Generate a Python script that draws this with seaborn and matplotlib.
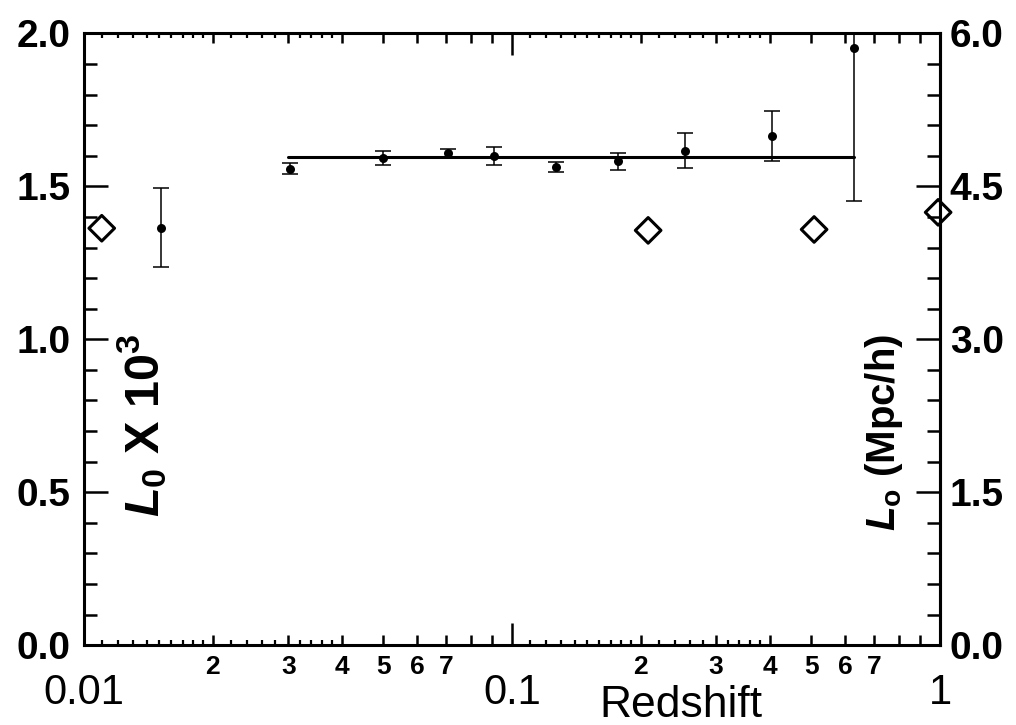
import numpy as np
import matplotlib
matplotlib.use("Agg")
import matplotlib.pyplot as plt
import seaborn as sns
from matplotlib.ticker import FixedLocator, FixedFormatter

# Data
circle_z = [0.0151, 0.0303, 0.050, 0.0709, 0.0908, 0.127, 0.177, 0.254, 0.405, 0.63]
circle_L = [1.363, 1.556, 1.592, 1.608, 1.598, 1.562, 1.582, 1.614, 1.663, 1.951]
circle_lo = [1.235, 1.539, 1.569, 1.595, 1.569, 1.546, 1.552, 1.559, 1.582, 1.451]
circle_hi = [1.493, 1.575, 1.614, 1.621, 1.627, 1.578, 1.608, 1.673, 1.745, 2.45]

diamond_z = [0.0110, 0.208, 0.508, 0.99]
diamond_L = [1.363, 1.356, 1.359, 1.415]

fit_z = [0.030, 0.63]
fit_L = [1.597, 1.597]

major_x = [0.01, 0.1, 1]
major_x_labels = ["0.01", "0.1", "1"]
mid_x = [m * d for d in (0.01, 0.1) for m in range(2, 10)]
mid_x_labels = [str(m) if m <= 7 else "" for d in (0.01, 0.1) for m in range(2, 10)]
fine_x = [0.011, 0.012, 0.013, 0.014, 0.015, 0.016, 0.017, 0.018, 0.019,
          0.022, 0.024, 0.026, 0.028, 0.032, 0.034, 0.036, 0.038,
          0.11, 0.12, 0.13, 0.14, 0.15, 0.16, 0.17, 0.18, 0.19,
          0.22, 0.24, 0.26, 0.28, 0.32, 0.34, 0.36, 0.38]

left_ticks = [0.0, 0.5, 1.0, 1.5, 2.0]
right_ticks = [0.0, 1.5, 3.0, 4.5, 6.0]

sns.set_theme(style="ticks")
plt.rcParams["font.family"] = ["Liberation Sans", "DejaVu Sans"]
plt.rcParams["mathtext.fontset"] = "custom"
plt.rcParams["mathtext.it"] = "Liberation Sans:italic:bold"
plt.rcParams["mathtext.rm"] = "Liberation Sans:bold"
plt.rcParams["mathtext.bf"] = "Liberation Sans:bold"
for key in ("text.color", "axes.labelcolor", "xtick.color", "ytick.color", "axes.edgecolor"):
    plt.rcParams[key] = "black"

fig = plt.figure(figsize=(10.16, 7.25), dpi=100)
ax = fig.add_axes([0.0827, 0.110, 0.8425, 0.844])

# error bars + fit line
yerr = [np.array(circle_L) - np.array(circle_lo), np.array(circle_hi) - np.array(circle_L)]
ax.errorbar(circle_z, circle_L, yerr=yerr, fmt="none", ecolor="black",
            elinewidth=1.1, capsize=6, capthick=1.1, zorder=2)
sns.lineplot(x=fit_z, y=fit_L, ax=ax, color="black", linewidth=2.2, zorder=3)
sns.scatterplot(x=circle_z, y=circle_L, ax=ax, color="black", s=42,
                linewidth=0, zorder=4)
sns.scatterplot(x=diamond_z, y=diamond_L, ax=ax, marker="D", s=170,
                facecolor="none", edgecolor="black", linewidth=2.2, zorder=5,
                clip_on=False)

ax.set_xscale("log")
ax.set_xlim(0.01, 1)
ax.set_ylim(0, 2.0)

for s in ax.spines.values():
    s.set_linewidth(2.2)
    s.set_visible(True)

# x ticks
ax.xaxis.set_major_locator(FixedLocator(major_x))
ax.xaxis.set_major_formatter(FixedFormatter(major_x_labels))
ax.xaxis.set_minor_locator(FixedLocator(mid_x))
ax.xaxis.set_minor_formatter(FixedFormatter(mid_x_labels))
ax.tick_params(axis="x", which="major", direction="in", length=16, width=1.8,
               top=True, pad=20, labelsize=30)
ax.tick_params(axis="x", which="minor", direction="in", length=7.5, width=1.8,
               top=True, pad=7, labelsize=19)
for t in ax.get_xticklabels(which="minor"):
    t.set_fontweight("bold")

for loc in ("bottom", "top"):
    sec = ax.secondary_xaxis(loc)
    sec.set_xticks(fine_x)
    sec.tick_params(which="both", direction="in", length=3.8, width=1.6,
                    labelbottom=False, labeltop=False)
    sec.xaxis.set_minor_locator(FixedLocator([]))
    sec.spines[loc].set_visible(False)

# left y ticks
ax.set_yticks(left_ticks)
ax.set_yticklabels([f"{v:.1f}" for v in left_ticks])
ax.yaxis.set_minor_locator(FixedLocator(np.arange(0, 2.01, 0.1)))
ax.tick_params(axis="y", which="major", direction="in", length=17, width=1.8,
               right=False, pad=10, labelsize=28)
ax.tick_params(axis="y", which="minor", direction="in", length=9.5, width=1.8,
               right=False)
for t in ax.get_yticklabels():
    t.set_fontweight("bold")

# right y axis
ax2 = ax.secondary_yaxis("right", functions=(lambda y: 3 * y, lambda y: y / 3))
ax2.set_yticks(right_ticks)
ax2.set_yticklabels([f"{v:.1f}" for v in right_ticks])
ax2.yaxis.set_minor_locator(FixedLocator(np.arange(0, 6.01, 0.3)))
ax2.tick_params(which="major", direction="in", length=17, width=1.8, pad=7,
                labelsize=28)
ax2.tick_params(which="minor", direction="in", length=9.5, width=1.8)
ax2.spines["right"].set_linewidth(2.2)
for t in ax2.get_yticklabels():
    t.set_fontweight("bold")

ax.set_xlabel("")
ax.set_ylabel("")
ax.text(0.697, -0.098, "Redshift", transform=ax.transAxes, fontsize=32,
        ha="center", va="center")
ax.text(0.068, 0.36, r"$L_0$ X 10$^3$", transform=ax.transAxes, fontsize=35,
        fontweight="bold", rotation=90, ha="center", va="center")
ax.text(0.935, 0.348, r"$L_\mathrm{o}$ (Mpc/h)", transform=ax.transAxes,
        fontsize=29, fontweight="bold", rotation=90, ha="center", va="center")

fig.savefig("out.png", dpi=100)
